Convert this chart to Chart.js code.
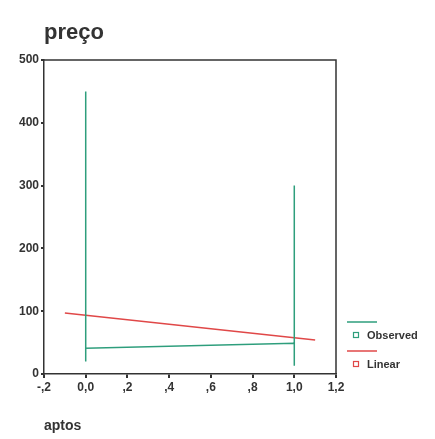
<!DOCTYPE html>
<html>
<head>
<meta charset="utf-8">
<script src="https://cdn.jsdelivr.net/npm/chart.js@4/dist/chart.umd.min.js"></script>
<style>
  html, body { margin: 0; padding: 0; background: #fff; }
  #wrap { width: 435px; height: 439px; }
</style>
</head>
<body>
<div id="wrap"><canvas id="curveChart"></canvas></div>
<script>
/*
    Curve fit: preço vs aptos (SPSS style)
*/
var chartTitle = "preço";
var xTitle = "aptos";
var seriesNames = ["Observed", "Linear"];

// observed points, in drawing order
var observedX = [0, 0, 0, 1, 1, 1];
var observedY = [450, 20, 41, 49, 13, 300];

// fitted linear line
var linearX = [-0.1, 1.1];
var linearY = [97, 54];

var xTicks = [-0.2, 0, 0.2, 0.4, 0.6, 0.8, 1.0, 1.2];
var yTicks = [0, 100, 200, 300, 400, 500];

var colors = ["#2e9e7c", "#e04848"];
var inkColor = "#333";
var fontFamily = "'Liberation Sans', Arial, sans-serif";

function toPoints(xs, ys) {
    return xs.map(function (x, i) { return { x: x, y: ys[i] }; });
}

// SPSS writes ",2" and "0,0" style numbers
function spssLabel(v) {
    var s = Math.abs(v).toFixed(1).replace(".", ",");
    if (Math.abs(v) < 1 && v !== 0) s = s.substring(1);
    return (v < 0 ? "-" : "") + s;
}

// frame on top/right, chart title and the stacked legend
var spssDecor = {
    id: 'spssDecor',
    afterDraw: function (chart) {
        var ctx = chart.ctx;
        var a = chart.chartArea;
        ctx.save();
        ctx.strokeStyle = inkColor;
        ctx.lineWidth = 1.5;
        ctx.beginPath();
        ctx.moveTo(a.left, a.top);
        ctx.lineTo(a.right, a.top);
        ctx.lineTo(a.right, a.bottom);
        ctx.stroke();

        ctx.fillStyle = inkColor;
        ctx.font = "bold 22px " + fontFamily;
        ctx.textBaseline = "middle";
        ctx.textAlign = "left";
        ctx.fillText(chartTitle, a.left, 33);

        ctx.font = "bold 11px " + fontFamily;
        seriesNames.forEach(function (name, i) {
            var y0 = a.bottom - 52 + i * 29;
            ctx.strokeStyle = colors[i];
            ctx.lineWidth = 1.5;
            ctx.beginPath();
            ctx.moveTo(a.right + 11, y0);
            ctx.lineTo(a.right + 41, y0);
            ctx.stroke();
            ctx.lineWidth = 1.2;
            ctx.strokeRect(a.right + 17.5, y0 + 10.5, 5, 5);
            ctx.fillStyle = inkColor;
            ctx.fillText(name, a.right + 31, y0 + 14);
        });
        ctx.restore();
    }
};

var ctxC = document.getElementById("curveChart").getContext('2d');
var curveChart = new Chart(ctxC, {
    type: 'scatter',
    data: {
        datasets: [{
            label: seriesNames[0],
            data: toPoints(observedX, observedY),
            showLine: true,
            borderColor: colors[0],
            backgroundColor: colors[0],
            borderWidth: 1.5,
            pointRadius: 0,
            tension: 0
        }, {
            label: seriesNames[1],
            data: toPoints(linearX, linearY),
            showLine: true,
            borderColor: colors[1],
            backgroundColor: colors[1],
            borderWidth: 1.5,
            pointRadius: 0,
            tension: 0
        }]
    },
    options: {
        responsive: true,
        maintainAspectRatio: false,
        animation: false,
        layout: {
            padding: { top: 60, right: 99, bottom: 0, left: 0 }
        },
        plugins: {
            legend: { display: false },
            tooltip: { enabled: false }
        },
        scales: {
            x: {
                type: 'linear',
                min: -0.2,
                max: 1.2,
                afterBuildTicks: function (scale) {
                    scale.ticks = xTicks.map(function (v) { return { value: v }; });
                },
                afterFit: function (scale) { scale.height = 65; },
                grid: { drawOnChartArea: false, drawTicks: true, tickLength: 4, color: inkColor, lineWidth: 2 },
                border: { color: inkColor, width: 1.5 },
                ticks: {
                    color: inkColor,
                    padding: 2,
                    maxRotation: 0,
                    font: { family: fontFamily, size: 12, weight: 'bold' },
                    callback: function (v) { return spssLabel(v); }
                },
                title: {
                    display: true,
                    text: xTitle,
                    align: 'start',
                    color: inkColor,
                    padding: { top: 0, bottom: 4 },
                    font: { family: fontFamily, size: 14, weight: 'bold' }
                }
            },
            y: {
                type: 'linear',
                min: 0,
                max: 500,
                afterBuildTicks: function (scale) {
                    scale.ticks = yTicks.map(function (v) { return { value: v }; });
                },
                afterFit: function (scale) { scale.width = 44; },
                grid: { drawOnChartArea: false, drawTicks: true, tickLength: 3, color: inkColor, lineWidth: 2 },
                border: { color: inkColor, width: 1.5 },
                ticks: {
                    color: inkColor,
                    padding: 2,
                    font: { family: fontFamily, size: 12, weight: 'bold' }
                }
            }
        }
    },
    plugins: [spssDecor]
});
</script>
</body>
</html>
